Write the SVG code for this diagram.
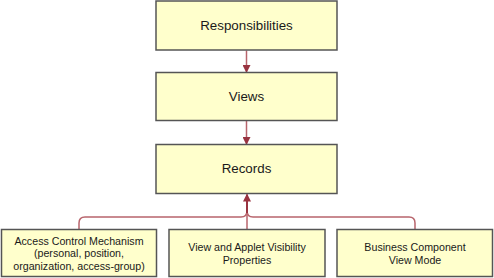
<svg xmlns="http://www.w3.org/2000/svg" width="494" height="278" viewBox="0 0 494 278">
<style>
.box{fill:#ffffcc;stroke:#555555;stroke-width:1.5}
.t{font-family:"Liberation Sans",Arial,sans-serif;fill:#1a1a1a;text-anchor:middle}
.big{font-size:13.33px}
.sm{font-size:10.67px}
.ln{fill:none;stroke:#b8646c;stroke-width:1.5}
.ar{fill:none;stroke:#993340;stroke-width:2}
</style>
<defs>
<marker id="ah" markerWidth="8" markerHeight="8" refX="7" refY="4" orient="auto" markerUnits="userSpaceOnUse">
<path d="M0,0 L8,4 L0,8 Z" fill="#993340"/>
</marker>
</defs>
<rect width="494" height="278" fill="#ffffff"/>
<g id="connectors">
<line class="ln" x1="246.5" y1="50.5" x2="246.5" y2="72" marker-end="url(#ah)"/>
<line class="ln" x1="246.5" y1="121" x2="246.5" y2="144" marker-end="url(#ah)"/>
<path class="ln" d="M79,229 V223 Q79,217 85,217 H241 Q247,217 247,211"/>
<path class="ln" d="M415,229 V223 Q415,217 409,217 H253 Q247,217 247,211"/>
<line class="ln" x1="247" y1="229" x2="247" y2="215"/>
<line class="ar" x1="247" y1="213" x2="247" y2="194.5" marker-end="url(#ah)"/>
</g>
<g id="responsibilities">
<rect class="box" x="156" y="1" width="181" height="49"/>
<text class="t big" x="246.5" y="30">Responsibilities</text>
</g>
<g id="views">
<rect class="box" x="156" y="72.5" width="181" height="48"/>
<text class="t big" x="246.5" y="101">Views</text>
</g>
<g id="records">
<rect class="box" x="156" y="144.5" width="181" height="49"/>
<text class="t big" x="246.5" y="172.5">Records</text>
</g>
<g id="access-control">
<rect class="box" x="1.5" y="229.5" width="155" height="47"/>
<text class="t sm" x="79" y="244.5">Access Control Mechanism</text>
<text class="t sm" x="79" y="257.2">(personal, position,</text>
<text class="t sm" x="79" y="270">organization, access-group)</text>
</g>
<g id="visibility">
<rect class="box" x="169" y="229.5" width="156" height="47"/>
<text class="t sm" x="247" y="251">View and Applet Visibility</text>
<text class="t sm" x="247" y="263.5">Properties</text>
</g>
<g id="view-mode">
<rect class="box" x="337" y="229.5" width="155.5" height="47"/>
<text class="t sm" x="415" y="251">Business Component</text>
<text class="t sm" x="415" y="263.5">View Mode</text>
</g>
</svg>
